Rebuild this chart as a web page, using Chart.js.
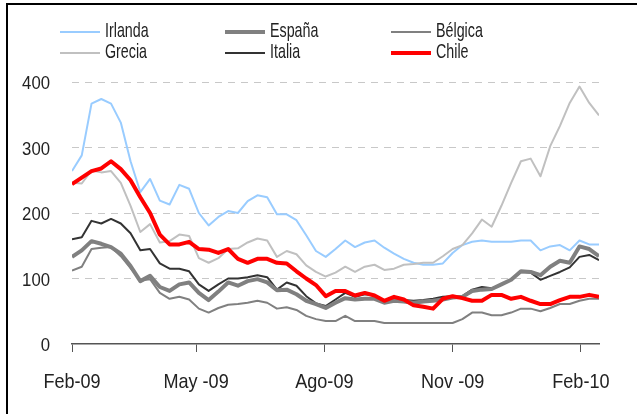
<!DOCTYPE html>
<html lang="es">
<head>
    <meta charset="UTF-8">
    <title>Spreads soberanos</title>
    <script src="https://cdn.jsdelivr.net/npm/chart.js"></script>
    <style>
        html, body { margin: 0; padding: 0; background: #fff; }
        #wrap { position: relative; width: 637px; height: 414px; }
        #frame {
            position: absolute; left: 6px; top: 3px; right: 0; bottom: 0;
            border-top: 2px solid #000; border-left: 2px solid #000;
            pointer-events: none;
        }
    </style>
</head>
<body>
    <div id="wrap">
        <canvas id="chart" width="637" height="414"></canvas>
        <div id="frame"></div>
    </div>

    <script>
        // datos semanales desde Feb-09 (pb)
        const irlanda = [264, 288, 367, 374, 367, 338, 279, 232, 252, 219, 213, 243, 237, 200, 181, 194, 203, 200, 218, 227,
                         224, 198, 198, 189, 166, 142, 133, 145, 158, 148, 155, 158, 147, 138, 130, 124, 121, 121, 123, 139,
                         151, 156, 158, 156, 156, 156, 158, 158, 143, 149, 151, 143, 158, 152, 152];
        const espana = [133, 143, 157, 153, 148, 138, 119, 96, 104, 87, 81, 91, 94, 78, 67, 80, 94, 89, 96, 99,
                        94, 82, 83, 76, 66, 61, 55, 63, 70, 68, 69, 69, 63, 66, 65, 63, 65, 66, 68, 71,
                        72, 81, 83, 84, 91, 98, 111, 110, 105, 118, 127, 124, 149, 145, 134];
        const belgica = [112, 118, 145, 147, 148, 134, 116, 97, 99, 78, 69, 72, 68, 54, 48, 55, 60, 61, 63, 66,
                         63, 54, 56, 52, 43, 38, 35, 35, 43, 35, 35, 35, 32, 32, 32, 32, 32, 32, 32, 32,
                         38, 48, 48, 44, 44, 48, 54, 54, 50, 55, 61, 61, 66, 69, 69];
        const grecia = [246, 245, 265, 262, 264, 246, 211, 171, 183, 155, 157, 167, 165, 131, 124, 131, 145, 146, 155, 161,
                        158, 133, 142, 137, 120, 110, 103, 109, 118, 110, 118, 121, 113, 115, 121, 122, 124, 124, 134, 145,
                        151, 169, 190, 179, 211, 246, 279, 283, 256, 302, 333, 368, 393, 368, 349];
        const italia = [160, 163, 188, 184, 191, 184, 169, 143, 145, 123, 115, 115, 111, 91, 81, 91, 100, 100, 102, 105,
                        102, 83, 94, 89, 73, 62, 58, 68, 78, 72, 76, 74, 66, 67, 67, 66, 67, 69, 72, 73,
                        73, 83, 87, 85, 91, 98, 110, 109, 98, 104, 110, 117, 133, 136, 128];
        const chile = [244, 254, 264, 268, 279, 267, 250, 224, 200, 167, 152, 152, 156, 145, 144, 139, 145, 130, 124, 130,
                       130, 124, 123, 111, 100, 90, 73, 81, 81, 74, 78, 74, 66, 72, 68, 59, 57, 54, 69, 73,
                       70, 66, 66, 75, 75, 69, 72, 66, 61, 61, 67, 72, 72, 75, 72];

        const tickLabels = ['Feb-09', 'May -09', 'Ago-09', 'Nov -09', 'Feb-10'];
        const tickDates = [new Date(2009, 1, 1), new Date(2009, 4, 1), new Date(2009, 7, 1), new Date(2009, 10, 1), new Date(2010, 1, 1)];
        const yTicks = [0, 100, 200, 300, 400];

        const start = new Date(2009, 1, 1);
        const DAY = 86400000;
        const tickDays = tickDates.map(d => Math.round((d - start) / DAY));

        // cada punto es una semana
        function toPoints(arr) {
            return arr.map((v, i) => ({ x: i * 7, y: v }));
        }

        const FONT = '"Liberation Sans Narrow", "Arial Narrow", "Liberation Sans", Arial, sans-serif';

        // texto estrecho (no hay Arial Narrow): se comprime en horizontal
        function narrowText(c, text, x, y, squeeze) {
            c.save();
            c.translate(x, y);
            c.scale(squeeze, 1);
            c.fillText(text, 0, 0);
            c.restore();
        }

        // leyenda en 3 columnas x 2 filas
        const legendOrder = ['Irlanda', 'España', 'Bélgica', 'Grecia', 'Italia', 'Chile'];
        const legendCols = [60, 225, 391];
        const legendRows = [32, 53];

        const textPlugin = {
            id: 'textPlugin',
            afterDraw(chart) {
                const c = chart.ctx;
                const xs = chart.scales.x;
                const ys = chart.scales.y;
                c.save();
                c.fillStyle = '#222';
                c.textBaseline = 'alphabetic';

                // leyenda
                c.font = '21px ' + FONT;
                c.textAlign = 'left';
                legendOrder.forEach((name, k) => {
                    const ds = chart.data.datasets.find(d => d.label === name);
                    const x = legendCols[k % 3];
                    const y = legendRows[Math.floor(k / 3)];
                    c.strokeStyle = ds.borderColor;
                    c.lineWidth = ds.borderWidth;
                    c.beginPath();
                    c.moveTo(x, y);
                    c.lineTo(x + 40, y);
                    c.stroke();
                    narrowText(c, name, x + 45, y + 5, 0.68);
                });

                // eje y
                c.font = '19px ' + FONT;
                c.textAlign = 'right';
                yTicks.forEach(v => {
                    narrowText(c, String(v), ys.right - 22, ys.getPixelForValue(v) + 7, 0.88);
                });

                // eje x
                c.font = '21px ' + FONT;
                c.textAlign = 'center';
                tickDays.forEach((d, k) => {
                    narrowText(c, tickLabels[k], xs.getPixelForValue(d), xs.top + 44, 0.86);
                });
                c.restore();
            }
        };

        const ctx = document.getElementById('chart').getContext('2d');
        new Chart(ctx, {
            type: 'line',
            data: {
                datasets: [
                    { label: 'Irlanda', data: toPoints(irlanda), borderColor: '#99ccff', borderWidth: 2, order: 5 },
                    { label: 'Grecia', data: toPoints(grecia), borderColor: '#c0c0c0', borderWidth: 2, order: 4 },
                    { label: 'Bélgica', data: toPoints(belgica), borderColor: '#808080', borderWidth: 2, order: 3 },
                    { label: 'Italia', data: toPoints(italia), borderColor: '#333333', borderWidth: 2, order: 2 },
                    { label: 'España', data: toPoints(espana), borderColor: '#808080', borderWidth: 4, order: 1 },
                    { label: 'Chile', data: toPoints(chile), borderColor: '#ff0000', borderWidth: 4, order: 0 }
                ]
            },
            options: {
                responsive: false,
                animation: false,
                layout: { padding: { left: 0, right: 38, top: 82, bottom: 0 } },
                elements: {
                    point: { radius: 0 },
                    line: { tension: 0, fill: false, borderJoinStyle: 'round' }
                },
                plugins: {
                    legend: { display: false },
                    tooltip: { enabled: false }
                },
                scales: {
                    x: {
                        type: 'linear',
                        min: 0,
                        max: (irlanda.length - 1) * 7,
                        afterBuildTicks: s => { s.ticks = tickDays.map(v => ({ value: v })); },
                        afterFit: s => { s.height = 70; },
                        grid: { drawOnChartArea: false, drawTicks: true, tickLength: 8, color: '#555', lineWidth: 1 },
                        border: { display: true, color: '#555', width: 1.5 },
                        ticks: { display: false }
                    },
                    y: {
                        min: 0,
                        max: 400,
                        afterBuildTicks: s => { s.ticks = yTicks.map(v => ({ value: v })); },
                        afterFit: s => { s.width = 72; },
                        grid: {
                            drawTicks: false,
                            color: c => c.tick.value === 0 ? 'rgba(0,0,0,0)' : '#c8c8c8',
                            lineWidth: 1
                        },
                        border: { display: false, dash: [7, 6] },
                        ticks: { display: false }
                    }
                }
            },
            plugins: [textPlugin]
        });
    </script>
</body>
</html>
